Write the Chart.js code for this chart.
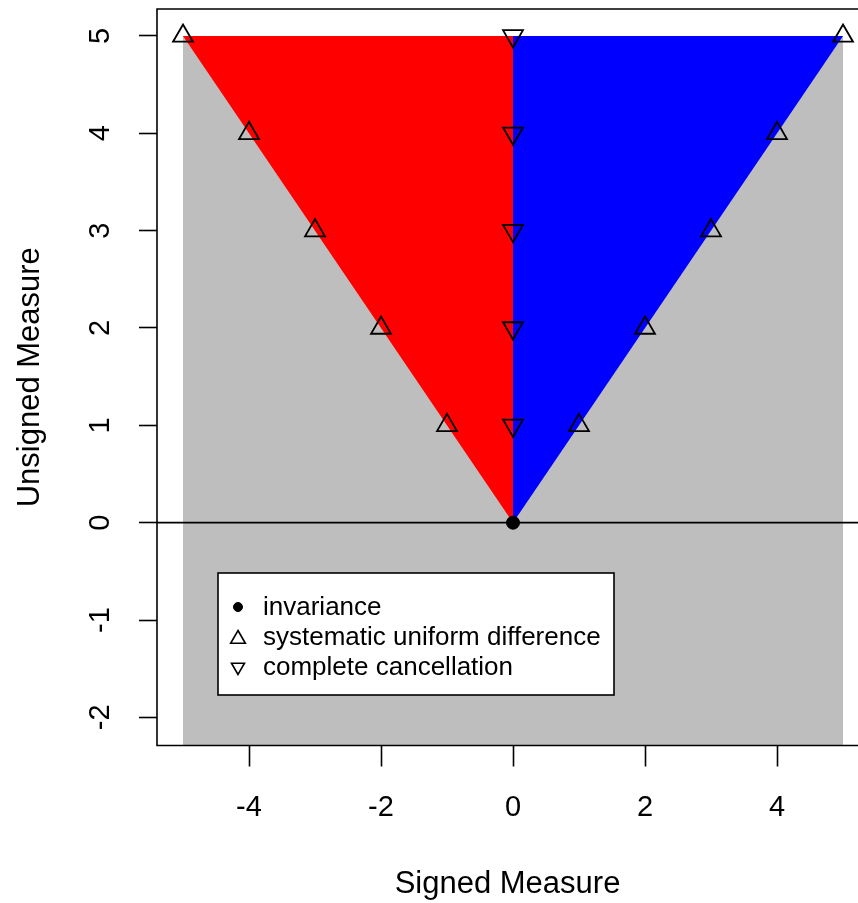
<!DOCTYPE html>
<html><head><meta charset="utf-8">
<script src="https://cdn.jsdelivr.net/npm/chart.js@4/dist/chart.umd.min.js"></script>
<style>html,body{margin:0;padding:0;background:#fff;overflow:hidden}#wrap{width:858px;height:903px;position:relative}</style>
</head><body><div id="wrap"><canvas id="c"></canvas></div>
<script>
// ---- data ----
const xTicks = [-4, -2, 0, 2, 4];
const yTicks = [-2, -1, 0, 1, 2, 3, 4, 5];
const upX = [-5, -4, -3, -2, -1, 1, 2, 3, 4, 5];
const upY = [5, 4, 3, 2, 1, 1, 2, 3, 4, 5];
const downX = [0, 0, 0, 0, 0];
const downY = [1, 2, 3, 4, 5];
const invX = [0];
const invY = [0];
const grayX = [-5, 5, 5, -5];
const grayY = [5, 5, -3, -3];
const redX = [-5, 0, 0];
const redY = [5, 5, 0];
const blueX = [0, 5, 0];
const blueY = [0, 5, 5];
const hLineX = [-6, 6];
const hLineY = [0, 0];
const legendLabels = ['invariance', 'systematic uniform difference', 'complete cancellation'];
const xTitle = 'Signed Measure';
const yTitle = 'Unsigned Measure';

const pts = (xs, ys) => xs.map((x, i) => ({x: x, y: ys[i]}));
const FONT = "'Liberation Sans', Arial, sans-serif";

const overlay = {
  id: 'overlay',
  afterDraw(chart) {
    const ctx = chart.ctx, a = chart.chartArea;
    const xs = chart.scales.x, ys = chart.scales.y;
    ctx.save();
    // box (top, left, bottom)
    ctx.strokeStyle = '#000'; ctx.lineWidth = 1.6;
    ctx.beginPath();
    ctx.moveTo(a.right + 2, a.top); ctx.lineTo(a.left, a.top); ctx.lineTo(a.left, a.bottom); ctx.lineTo(a.right + 2, a.bottom);
    ctx.stroke();
    // tick labels
    ctx.fillStyle = '#000';
    ctx.font = '29px ' + FONT;
    ctx.textAlign = 'center'; ctx.textBaseline = 'alphabetic';
    xTicks.forEach(v => { ctx.fillText(String(v), xs.getPixelForValue(v), 816); });
    yTicks.forEach(v => {
      ctx.save();
      ctx.translate(99, ys.getPixelForValue(v));
      ctx.rotate(-Math.PI / 2);
      ctx.fillText(String(v), 0, 10.4);
      ctx.restore();
    });
    // legend
    const L = a.left + 61, T = 573, W = 396, H = 122;
    ctx.fillStyle = '#fff'; ctx.fillRect(L, T, W, H);
    ctx.strokeStyle = '#000'; ctx.lineWidth = 1.6; ctx.strokeRect(L, T, W, H);
    const styles = [
      {pointStyle: 'circle', radius: 4.5, rotation: 0, borderWidth: 1, fill: '#000'},
      {pointStyle: 'triangle', radius: 8.5, rotation: 0, borderWidth: 1.6, fill: 'rgba(0,0,0,0)'},
      {pointStyle: 'triangle', radius: 7.5, rotation: 180, borderWidth: 1.6, fill: 'rgba(0,0,0,0)'}
    ];
    ctx.font = '26px ' + FONT;
    ctx.textAlign = 'left'; ctx.textBaseline = 'middle';
    legendLabels.forEach((t, i) => {
      const cy = T + 34 + i * 30;
      const s = styles[i];
      ctx.strokeStyle = '#000'; ctx.fillStyle = s.fill; ctx.lineWidth = s.borderWidth;
      Chart.helpers.drawPoint(ctx, {pointStyle: s.pointStyle, radius: s.radius, rotation: s.rotation, borderWidth: s.borderWidth}, L + 20, cy + (i === 1 ? 2 : 0));
      ctx.fillStyle = '#000';
      ctx.fillText(t, L + 45, cy + 1);
    });
    ctx.restore();
  }
};

new Chart(document.getElementById('c'), {
  type: 'scatter',
  data: {
    datasets: [
      {data: pts(invX, invY), pointStyle: 'circle', pointRadius: 6.5, backgroundColor: '#000', borderColor: '#000', borderWidth: 1, order: 0},
      {data: pts(upX, upY), pointStyle: 'triangle', pointRadius: 11.5, backgroundColor: 'rgba(0,0,0,0)', borderColor: '#000', borderWidth: 1.8, order: 1},
      {data: pts(downX, downY), pointStyle: 'triangle', pointRotation: 180, pointRadius: 11.5, backgroundColor: 'rgba(0,0,0,0)', borderColor: '#000', borderWidth: 1.8, order: 1},
      {data: pts(hLineX, hLineY), showLine: true, borderColor: '#000', borderWidth: 1.8, pointRadius: 0, fill: false, order: 2},
      {data: pts(blueX, blueY), showLine: true, borderWidth: 0, borderColor: 'rgba(0,0,0,0)', backgroundColor: '#0000FF', fill: 'shape', pointRadius: 0, order: 3},
      {data: pts(redX, redY), showLine: true, borderWidth: 0, borderColor: 'rgba(0,0,0,0)', backgroundColor: '#FF0000', fill: 'shape', pointRadius: 0, order: 4},
      {data: pts(grayX, grayY), showLine: true, borderWidth: 0, borderColor: 'rgba(0,0,0,0)', backgroundColor: '#BEBEBE', fill: 'shape', pointRadius: 0, order: 5}
    ]
  },
  options: {
    responsive: true, maintainAspectRatio: false, animation: false,
    layout: {autoPadding: false, padding: {top: 9, right: 0, left: 0, bottom: 0}},
    plugins: {legend: {display: false}, tooltip: {enabled: false}},
    scales: {
      x: {
        type: 'linear', min: -5.394, max: 5.227,
        afterBuildTicks: s => { s.ticks = xTicks.map(v => ({value: v})); },
        afterFit: s => { s.height = 157.5; },
        ticks: {display: false},
        grid: {drawOnChartArea: false, drawTicks: true, tickLength: 21, color: '#000', tickWidth: 1.6},
        border: {display: false},
        title: {display: true, text: xTitle, color: '#000', font: {family: FONT, size: 31}, padding: {top: 2, bottom: 0}}
      },
      y: {
        type: 'linear', min: -2.289, max: 5.277,
        afterBuildTicks: s => { s.ticks = yTicks.map(v => ({value: v})); },
        afterFit: s => { s.width = 157; },
        ticks: {display: false},
        grid: {drawOnChartArea: false, drawTicks: true, tickLength: 18, color: '#000', tickWidth: 1.6},
        border: {display: false},
        title: {display: true, text: yTitle, color: '#000', font: {family: FONT, size: 31}, padding: {top: 12, bottom: 0}}
      }
    }
  },
  plugins: [overlay]
});
</script></body></html>
